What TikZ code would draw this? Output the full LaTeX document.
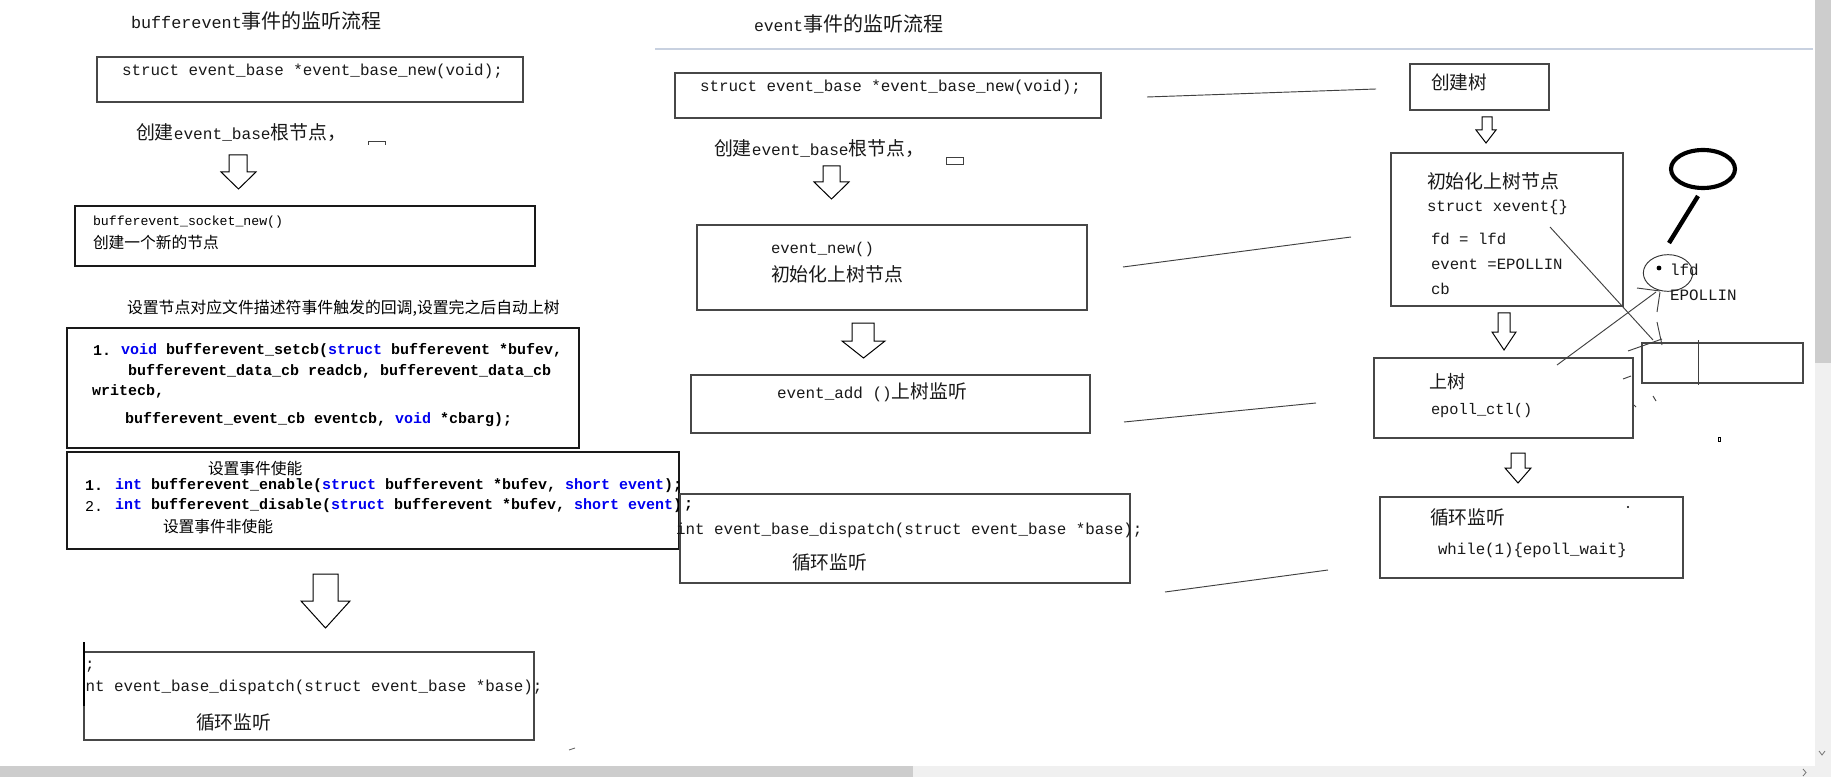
\documentclass[tikz,border=0pt]{standalone}
\usepackage{fontspec}
\usetikzlibrary{shapes.geometric}
\setmainfont{Liberation Mono}
\newfontfamily\cjk{Noto Sans CJK SC}
\newcommand\fs[1]{\fontsize{#1pt}{#1pt}\selectfont}
\definecolor{kwblue}{RGB}{0,0,240}
\definecolor{sepline}{RGB}{200,209,224}
\definecolor{sbdark}{RGB}{205,205,205}
\definecolor{sblight}{RGB}{240,240,240}
\newcommand\kw[1]{{\color{kwblue}#1}}
\newcommand\barr[7]{\draw[barrow] (#2,#5) -- (#3,#5) -- (#3,#6) -- (#4,#6) -- ({(#1+#4)/2},#7) -- (#1,#6) -- (#2,#6) -- cycle;}
\tikzset{
  box/.style={draw=black!72, line width=0.9pt},
  txt/.style={anchor=west, inner sep=0pt, outer sep=0pt, text=black!90},
  code/.style={txt, text=black},
  handline/.style={draw=black!75, line width=0.7pt},
  barrow/.style={draw=black, line width=0.75pt, fill=white, line join=miter},
}
\begin{document}
\begin{tikzpicture}[x=0.75pt,y=-0.75pt]
\useasboundingbox (0,0) rectangle (1831,777);
\fill[white] (0,0) rectangle (1831,777);

% scrollbars and separator
\fill[sbdark] (0,766) rectangle (913,777);
\fill[sblight] (913,766) rectangle (1831,777);
\fill[sbdark] (1815,0) rectangle (1831,363);
\fill[sblight] (1815,363) rectangle (1831,766);
\draw[black!55, line width=0.6pt] (1819,751) -- (1822,755) -- (1825,751);
\draw[black!55, line width=0.6pt] (1803,769) -- (1806,772.5) -- (1803,776);
\coordinate (sepL) at (655,49); \coordinate (sepR) at (1813,49);
\draw[sepline, line width=1.6pt] (sepL) -- (sepR);

% ================= left column =================
\node[txt] (t1) at (131,21) {\fs{12.6}bufferevent{\cjk\fs{15}事件的监听流程}};

\coordinate (b1a) at (97,57); \coordinate (b1b) at (523,102);
\draw[box] (b1a) rectangle (b1b);
\node[txt] (c1) at (122,71) {\fs{11.9}struct event\_base *event\_base\_new(void);};

\node[txt] (t2) at (136,133) {{\cjk\fs{14.2}创建}\fs{12.1}event\_base{\cjk\fs{14.2}根节点，}};
\coordinate (m1a) at (368,145); \coordinate (m1b) at (368,141);
\coordinate (m1c) at (385,141); \coordinate (m1d) at (385,145);
\draw[handline] (m1a) -- (m1b) -- (m1c) -- (m1d);

\barr{221}{229}{247}{256}{155}{172}{189}

\coordinate (b2a) at (75,206); \coordinate (b2b) at (535,266);
\draw[box, draw=black!90] (b2a) rectangle (b2b);
\node[code] (c2) at (93,222) {\fs{9.9}bufferevent\_socket\_new()};
\node[code] (c2b) at (93,242) {\cjk\fs{11.8}创建一个新的节点};

\node[code] (t3) at (127,308) {\cjk\fs{11.9}设置节点对应文件描述符事件触发的回调,设置完之后自动上树};

\coordinate (b3a) at (67,328); \coordinate (b3b) at (579,448);
\draw[box, draw=black!90] (b3a) rectangle (b3b);
\node[code] (n31) at (93,351) {\fs{11.25}\bfseries 1.};
\node[code] (c31) at (121,351) {\fs{11.25}\bfseries \kw{void} bufferevent\_setcb(\kw{struct} bufferevent *bufev,};
\node[code] (c32) at (128,371) {\fs{11.25}\bfseries bufferevent\_data\_cb readcb, bufferevent\_data\_cb};
\node[code] (c33) at (92,391) {\fs{11.25}\bfseries writecb,};
\node[code] (c34) at (125,420) {\fs{11.25}\bfseries bufferevent\_event\_cb eventcb, \kw{void} *cbarg);};

\coordinate (b4a) at (67,452); \coordinate (b4b) at (679,549);
\draw[box, draw=black!90] (b4a) rectangle (b4b);
\node[code] (t41) at (208,469) {\cjk\fs{11.8}设置事件使能};
\node[code] (n41) at (85,486) {\fs{11.25}\bfseries 1.};
\node[code] (c41) at (115,486) {\fs{11.25}\bfseries \kw{int} bufferevent\_enable(\kw{struct} bufferevent *bufev, \kw{short event});};
\node[code] (n42) at (85,506) {\fs{11.25}2.};
\node[code] (c42) at (115,506) {\fs{11.25}\bfseries \kw{int} bufferevent\_disable(\kw{struct} bufferevent *bufev, \kw{short event})};
\node[code] (s42) at (684,506) {\fs{11.25}\bfseries ;};
\node[code] (t42) at (163,527) {\cjk\fs{11.8}设置事件非使能};

\barr{301}{313}{338}{350}{574}{601}{628}

\coordinate (b5a) at (84,652); \coordinate (b5b) at (534,740);
\draw[box] (b5a) rectangle (b5b);
\coordinate (b5l1) at (84,642); \coordinate (b5l2) at (84,706);
\draw[black, line width=1.3pt] (b5l1) -- (b5l2);
\node[txt] (s51) at (85,667) {\fs{11.9};};
\begin{scope}
\clip (85.5,672) rectangle (620,704);
\node[txt] (c51) at (76,687) {\fs{11.9}int event\_base\_dispatch(struct event\_base *base);};
\end{scope}
\node[txt] (t51) at (196,722) {\cjk\fs{14.1}循环监听};
\coordinate (dm1) at (569,750); \coordinate (dm2) at (575,748);
\draw[black!60, line width=0.7pt] (dm1) -- (dm2);

% ================= middle column =================
\node[txt] (t6) at (754,24) {\fs{12.3}event{\cjk\fs{15}事件的监听流程}};

\coordinate (m1A) at (675,73); \coordinate (m1B) at (1101,118);
\draw[box] (m1A) rectangle (m1B);
\node[txt] (c61) at (700,87) {\fs{11.9}struct event\_base *event\_base\_new(void);};
\node[txt] (t62) at (714,149) {{\cjk\fs{14.2}创建}\fs{12.1}event\_base{\cjk\fs{14.2}根节点，}};
\coordinate (sr1) at (946,157); \coordinate (sr2) at (963,164);
\draw[handline] (sr1) rectangle (sr2);

\barr{814}{823}{840}{849}{166}{182}{199}

\coordinate (m2A) at (697,225); \coordinate (m2B) at (1087,310);
\draw[box] (m2A) rectangle (m2B);
\node[txt] (c63) at (771,249) {\fs{11.7}event\_new()};
\node[txt] (t63) at (771,274) {\cjk\fs{14.2}初始化上树节点};

\barr{842}{852}{874}{885}{323}{341}{358}

\coordinate (m3A) at (691,375); \coordinate (m3B) at (1090,433);
\draw[box] (m3A) rectangle (m3B);
\node[txt] (c64) at (777,392) {\fs{11.95}event\_add ()\cjk\fs{14.1}上树监听};

\coordinate (m4A) at (680,494); \coordinate (m4B) at (1130,583);
\draw[box] (m4A) rectangle (m4B);
\node[txt] (c65) at (676,530) {\fs{11.9}int event\_base\_dispatch(struct event\_base *base);};
\node[txt] (t65) at (792,562) {\cjk\fs{14.1}循环监听};

% hand-drawn connector lines
\coordinate (l1a) at (1147,97); \coordinate (l1b) at (1376,89);
\draw[handline] (l1a) -- (l1b);
\coordinate (l2a) at (1123,267); \coordinate (l2b) at (1351,237);
\draw[handline] (l2a) -- (l2b);
\coordinate (l3a) at (1124,422); \coordinate (l3b) at (1316,403);
\draw[handline] (l3a) -- (l3b);
\coordinate (l4a) at (1165,592); \coordinate (l4b) at (1328,570);
\draw[handline] (l4a) -- (l4b);

% ================= right column =================
\coordinate (r1A) at (1410,64); \coordinate (r1B) at (1549,110);
\draw[box] (r1A) rectangle (r1B);
\node[txt] (t71) at (1431,82) {\cjk\fs{14}创建树};

\barr{1476}{1482}{1492}{1496}{117}{130}{143}

\coordinate (r2A) at (1391,153); \coordinate (r2B) at (1623,306);
\draw[box] (r2A) rectangle (r2B);
\node[txt] (t72) at (1427,181) {\cjk\fs{14.2}初始化上树节点};
\node[txt] (c72) at (1427,207) {\fs{11.75}struct xevent\{\}};
\node[txt] (c73) at (1431,239) {\fs{11.75}fd = lfd};
\node[txt] (c74) at (1431,264) {\fs{11.75}event =EPOLLIN};
\node[txt] (c75) at (1431,289) {\fs{11.75}cb};

\barr{1492}{1498}{1510}{1516}{313}{332}{350}

\coordinate (r3A) at (1374,358); \coordinate (r3B) at (1633,438);
\draw[box] (r3A) rectangle (r3B);
\node[txt] (t73) at (1429,382) {\cjk\fs{13.5}上树};
\node[txt] (c76) at (1431,411) {\fs{11.5}epoll\_ctl()};

\barr{1505}{1511}{1525}{1531}{453}{468}{483}

\coordinate (r4A) at (1380,497); \coordinate (r4B) at (1683,578);
\draw[box] (r4A) rectangle (r4B);
\node[txt] (t74) at (1430,517) {\cjk\fs{14.1}循环监听};
\node[txt] (c77) at (1438,550) {\fs{11.8}while(1)\{epoll\_wait\}};

% magnifier
\node[draw=black, line width=3.1pt, ellipse, minimum width=48pt, minimum height=28.5pt, inner sep=0pt] (mag) at (1703,169) {};
\coordinate (h1) at (1698,196); \coordinate (h2) at (1669,243);
\draw[black, line width=3.3pt] (h1) -- (h2);

% lfd bubble
\node[draw=black!80, line width=0.7pt, ellipse, minimum width=37pt, minimum height=27.5pt, inner sep=0pt] (bub) at (1668,273) {};
\fill[black] (1659,268) circle (2.4);
\node[txt] (c78) at (1670,270) {\fs{11.9}lfd};
\node[txt] (c79) at (1670,295) {\fs{11.9}EPOLLIN};

% small array box
\coordinate (arA) at (1642,343); \coordinate (arB) at (1803,383);
\draw[box] (arA) rectangle (arB);
\coordinate (dv1) at (1698,340); \coordinate (dv2) at (1698,385);
\draw[handline] (dv1) -- (dv2);

% scribbled lines
\coordinate (d1a) at (1550,227); \coordinate (d1b) at (1653,340);
\draw[handline] (d1a) -- (d1b);
\coordinate (d2a) at (1557,365); \coordinate (d2b) at (1656,292);
\draw[handline] (d2a) -- (d2b);
\coordinate (s1a) at (1637,288); \coordinate (s1b) at (1660,291);
\draw[handline] (s1a) -- (s1b);
\coordinate (s2a) at (1657,312); \coordinate (s2b) at (1660,292);
\draw[handline] (s2a) -- (s2b);
\coordinate (s3a) at (1657,322); \coordinate (s3b) at (1662,345);
\draw[handline] (s3a) -- (s3b);
\coordinate (s4a) at (1628,351); \coordinate (s4b) at (1662,339);
\draw[handline] (s4a) -- (s4b);
\coordinate (s5a) at (1623,379); \coordinate (s5b) at (1631,376);
\draw[handline] (s5a) -- (s5b);
\coordinate (s6a) at (1653,396); \coordinate (s6b) at (1656,401);
\draw[handline] (s6a) -- (s6b);
\coordinate (s7a) at (1634,405); \coordinate (s7b) at (1636,407);
\draw[handline] (s7a) -- (s7b);
\coordinate (tr1) at (1718,437); \coordinate (tr2) at (1720,441);
\draw[black, line width=0.6pt] (tr1) rectangle (tr2);
\fill[black] (1628,507) circle (1.2);
\end{tikzpicture}
\end{document}
